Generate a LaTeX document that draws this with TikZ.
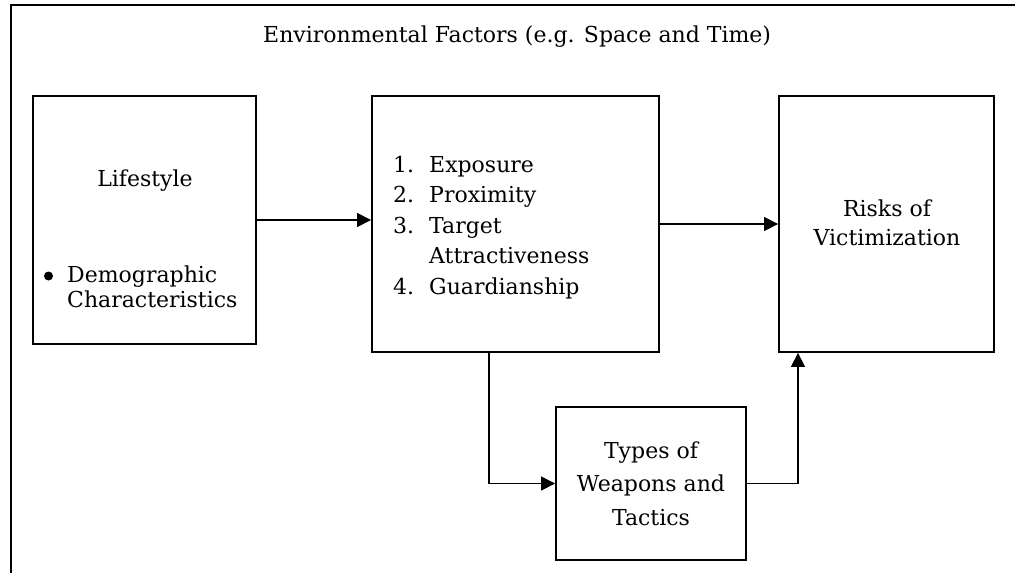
\documentclass[tikz,border=0pt]{standalone}
\usepackage{fontspec}
\setmainfont{DejaVu Serif}
\usetikzlibrary{arrows.meta}
\begin{document}
\begin{tikzpicture}[x=1pt,y=-1pt,
  box/.style={draw, line width=1.8pt, inner sep=0pt},
  conn/.style={line width=1.2pt, -{Triangle[length=14pt,width=14pt]}},
  frame/.style={line width=1.8pt},
  txt/.style={inner sep=0pt, font=\fontsize{22}{#1}\selectfont},
  txt/.default=30.5]
  \useasboundingbox (0,0) rectangle (1015,573);

  % outer frame (top and left edges)
  \draw[frame] (11,574) -- (11,5) -- (1016,5);

  \node[txt, anchor=base west] (title) at (263,42)
    {Environmental Factors (e.g. Space and Time)};

  % boxes
  \node[box, minimum width=223pt, minimum height=248pt] (life)    at (144.5,220) {};
  \node[box, minimum width=287pt, minimum height=256pt] (factors) at (515.5,224) {};
  \node[box, minimum width=215pt, minimum height=256pt] (risk)    at (886.5,224) {};
  \node[box, minimum width=190pt, minimum height=153pt] (weapons) at (651,483.5) {};

  % box texts
  \node[txt, anchor=base] (lifetxt) at (145,186) {Lifestyle};
  \node[circle, fill, minimum size=9pt, inner sep=0pt] (bullet) at (48.5,276) {};
  \node[txt=25, anchor=base west] (demo) at (67,282)
    {\begin{tabular}[t]{@{}l@{}}Demographic\\Characteristics\end{tabular}};

  \node[txt=30.5, anchor=base west] (list) at (393,172)
    {\begin{tabular}[t]{@{}l@{}}
      \makebox[36pt][l]{1.}Exposure\\
      \makebox[36pt][l]{2.}Proximity\\
      \makebox[36pt][l]{3.}Target\\
      \hspace*{36pt}Attractiveness\\
      \makebox[36pt][l]{4.}Guardianship
    \end{tabular}};

  \node[txt=29, anchor=base] (risktxt) at (887,216)
    {\begin{tabular}[t]{@{}c@{}}Risks of\\Victimization\end{tabular}};

  \node[txt=33.5, anchor=base] (weaptxt) at (651,458)
    {\begin{tabular}[t]{@{}c@{}}Types of\\Weapons and\\Tactics\end{tabular}};

  % connectors
  \draw[conn] (life.east) -- (factors.west |- life.east);
  \draw[conn] (factors.east) -- (risk.west);
  \draw[conn] ([xshift=-26.5pt]factors.south) |- (weapons.west);
  \draw[conn] (weapons.east) -| ([xshift=-88.5pt]risk.south);
\end{tikzpicture}
\end{document}
